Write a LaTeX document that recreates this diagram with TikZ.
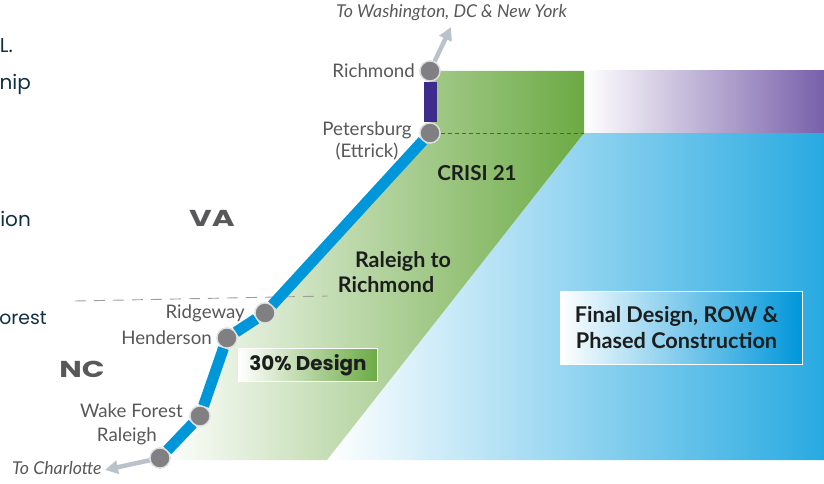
\documentclass[tikz,border=0pt]{standalone}
\usepackage{fontspec}
\setmainfont{Lato}
\newfontfamily\popf{Poppins}
\usetikzlibrary{arrows.meta}
\definecolor{lineblue}{RGB}{0,150,218}
\definecolor{linepurple}{RGB}{62,44,140}
\definecolor{stationgray}{RGB}{128,128,131}
\definecolor{ringgray}{RGB}{222,224,224}
\definecolor{labelgray}{RGB}{88,88,90}
\definecolor{arrowgray}{RGB}{186,194,204}
\definecolor{navy}{RGB}{16,48,66}
\definecolor{ink}{RGB}{28,30,30}
\definecolor{gend}{RGB}{108,170,68}
\definecolor{bend}{RGB}{40,170,225}
\definecolor{pend}{RGB}{120,96,170}
\tikzset{
  x=1pt,y=-1pt,
  station/.style={circle,fill=stationgray,draw=ringgray,line width=1.3pt,minimum size=20pt,inner sep=0pt},
  stlabel/.style={text=labelgray,font=\fontsize{18.7}{20}\selectfont,inner sep=0pt},
  tolabel/.style={text=labelgray,font=\fontsize{17.7}{19}\selectfont\itshape,inner sep=0pt},
  tracklink/.style={draw=lineblue,line width=11pt},
  outarrow/.style={draw=arrowgray,line width=4.5pt,-{Triangle[length=13pt,width=13pt]}},
  statelabel/.style={text=labelgray,font=\popf\bfseries\fontsize{23}{25}\selectfont,inner sep=0pt},
  phase/.style={text=ink,font=\bfseries\fontsize{21.5}{25}\selectfont,inner sep=0pt,align=center},
  sidetext/.style={text=navy,font=\popf\fontsize{20}{22}\selectfont,inner sep=0pt,anchor=base east},
  phasebox/.style={draw=white,line width=1.3pt,left color=white,inner sep=0pt,align=center,text=ink}
}
\begin{document}
\begin{tikzpicture}
\useasboundingbox (0,0) rectangle (824,484);
\clip (0,0) rectangle (824,484);
% colour fields
\shade[left color=white,right color=bend,middle color=bend!50!white]
  (584,133) -- (824,133) -- (824,460) -- (327,460) -- cycle;
\shade[left color=white,right color=pend,middle color=pend!50!white]
  (584,71) rectangle (824,133);
\shade[left color=white,right color=gend,middle color=gend!50!white]
  (430,71) -- (584,71) -- (584,133) -- (327,460) -- (160,460) -- (200,416)
  -- (227,338) -- (265,313) -- (430,133) -- cycle;
% state line
\coordinate (stA) at (75,301);
\coordinate (stB) at (328,296);
\draw[draw=black!38,line width=0.9pt,dash pattern=on 11pt off 8pt] (stA) -- (stB);
% stations
\node[station] (rich) at (430,71) {};
\node[station] (pete) at (430,133) {};
\node[station] (ridg) at (265,313) {};
\node[station] (hend) at (227,338) {};
\node[station] (wake) at (200,416) {};
\node[station] (rale) at (160,458) {};
\coordinate (crisiEnd) at (584,133);
\coordinate (north) at (451,27);
\coordinate (south) at (105,470);
% connectors
\draw[draw=black!65,line width=0.8pt,dash pattern=on 4pt off 3pt] (pete) -- (crisiEnd);
\draw[draw=linepurple,line width=13pt] (rich) -- (pete);
\draw[tracklink] (pete) -- (ridg);
\draw[tracklink] (ridg) -- (hend);
\draw[tracklink] (hend) -- (wake);
\draw[tracklink] (wake) -- (rale);
\draw[outarrow] (rich) -- (north);
\draw[outarrow] (rale) -- (south);
\foreach \s in {rich,pete,ridg,hend,wake,rale}{
  \node[station] at (\s) {};
}
% station labels
\node[stlabel,anchor=east] (lrich) at (415,71) {Richmond};
\node[stlabel,anchor=center,align=center] (lpete) at (367,141) {Petersburg\\[2pt](Ettrick)};
\node[stlabel,anchor=east] (lridg) at (245,313) {Ridgeway};
\node[stlabel,anchor=east] (lhend) at (212,338) {Henderson};
\node[stlabel,anchor=east] (lwake) at (183,411) {Wake Forest};
\node[stlabel,anchor=east] (lrale) at (157,436) {Raleigh};
\node[tolabel,anchor=center] (lnorth) at (451.5,13) {To Washington, DC \& New York};
\node[tolabel,anchor=west] (lsouth) at (12,468) {To Charlotte};
% states
\node[statelabel] (va) at (212,218) {\scalebox{1.35}[1]{VA}};
\node[statelabel] (nc) at (82,369) {\scalebox{1.3}[1]{NC}};
% phase labels
\node[phase,font=\bfseries\fontsize{20.6}{25}\selectfont] (crisi) at (477,173) {CRISI 21};
\node[phase] (r2r) at (386,272) {\hspace*{34pt}Raleigh to\\Richmond};
\node[phasebox,right color=gend,minimum width=139pt,minimum height=33pt,
      font=\popf\bfseries\fontsize{19.9}{22}\selectfont] (des) at (308,365) {30\% Design};
\node[phasebox,right color=lineblue,minimum width=242pt,minimum height=73pt,
      font=\bfseries\fontsize{21.7}{26}\selectfont] (fin) at (681.5,328) {Final Design, ROW \&\hspace*{10pt}\\Phased Construction\hspace*{10pt}};
% cropped text at the left edge
\node[sidetext] (s1) at (13,53) {L.};
\node[sidetext] (s2) at (31,90) {nip};
\node[sidetext] (s3) at (31,226) {ion};
\node[sidetext,font=\popf\fontsize{18.8}{22}\selectfont] (s4) at (47,324) {orest};
\end{tikzpicture}
\end{document}
